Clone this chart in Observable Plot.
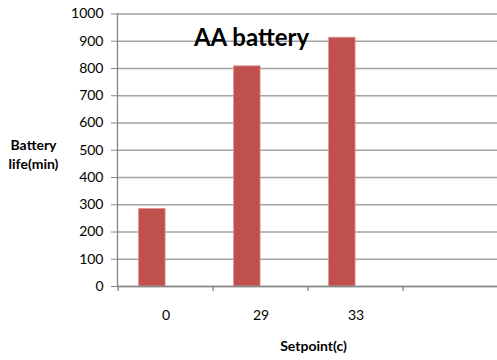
<!DOCTYPE html>
<html>
<head>
<meta charset="utf-8">
<script src="https://cdn.jsdelivr.net/npm/d3@7"></script>
<script src="https://cdn.jsdelivr.net/npm/@observablehq/plot@0.6"></script>
<style>
  body { margin: 0; background: #fff; }
  #chart { width: 497px; height: 360px; }
</style>
</head>
<body>
<div id="chart"></div>
<script>
// ---- data ----
const setpoints = ["0", "29", "33", ""];          // 4th category is empty in the source
const lifeMinutes = [285, 808, 913];
const yTicks = [0, 100, 200, 300, 400, 500, 600, 700, 800, 900, 1000];
const titleText = "AA battery";
const yLabelText = "Battery\nlife(min)";
const xLabelText = "Setpoint(c)";

const rows = lifeMinutes.map((v, i) => ({setpoint: setpoints[i], life: v}));

const axisGray = "#868686";
const gridGray = "#a3a3a3";
const barRed = "#C0504D";

const chart = Plot.plot({
  width: 497,
  height: 360,
  marginLeft: 117,
  marginRight: 0,
  marginTop: 13.5,
  marginBottom: 74,
  style: {fontFamily: "Lato, 'DejaVu Sans', sans-serif", color: "#000", background: "#fff"},
  x: {type: "band", domain: setpoints, range: [116.7, 500], padding: 0},
  y: {domain: [0, 1000]},
  marks: [
    Plot.gridY(yTicks, {stroke: gridGray, strokeOpacity: 1, strokeWidth: 1.3}),
    Plot.barY(rows, {x: "setpoint", y: "life", fill: barRed, stroke: "#dc9a98", strokeWidth: 0.8,
                     insetLeft: 20.5, insetRight: 47.9}),
    Plot.ruleY([0], {stroke: axisGray, strokeWidth: 1.3}),
    Plot.frame({anchor: "left", stroke: axisGray, strokeWidth: 1.3}),
    // boundary tick marks (shifted from band centers to band edges)
    Plot.axisX({tickSize: 5, tickFormat: () => "", dx: -47.9, stroke: axisGray, strokeWidth: 1.3, label: null}),
    // category labels
    Plot.axisX({tickSize: 0, tickPadding: 24, fontSize: 14, label: null, fill: "#000"}),
    Plot.axisY(yTicks, {tickSize: 6, tickPadding: 8, fontSize: 14, tickFormat: d => String(d),
                        stroke: axisGray, label: null, fill: "#000"}),
    Plot.text([titleText], {frameAnchor: "top", dx: -56, dy: 15, fontSize: 24, fontWeight: "bold", fill: "#000"}),
    Plot.text([yLabelText], {frameAnchor: "left", textAnchor: "middle", dx: -84, dy: 3, lineHeight: 1.4,
                             fontSize: 14, fontWeight: "bold", fill: "#000"}),
    Plot.text([xLabelText], {frameAnchor: "bottom", dx: 6, dy: 64, fontSize: 14, fontWeight: "bold", fill: "#000"})
  ]
});
document.getElementById("chart").appendChild(chart);
</script>
</body>
</html>
